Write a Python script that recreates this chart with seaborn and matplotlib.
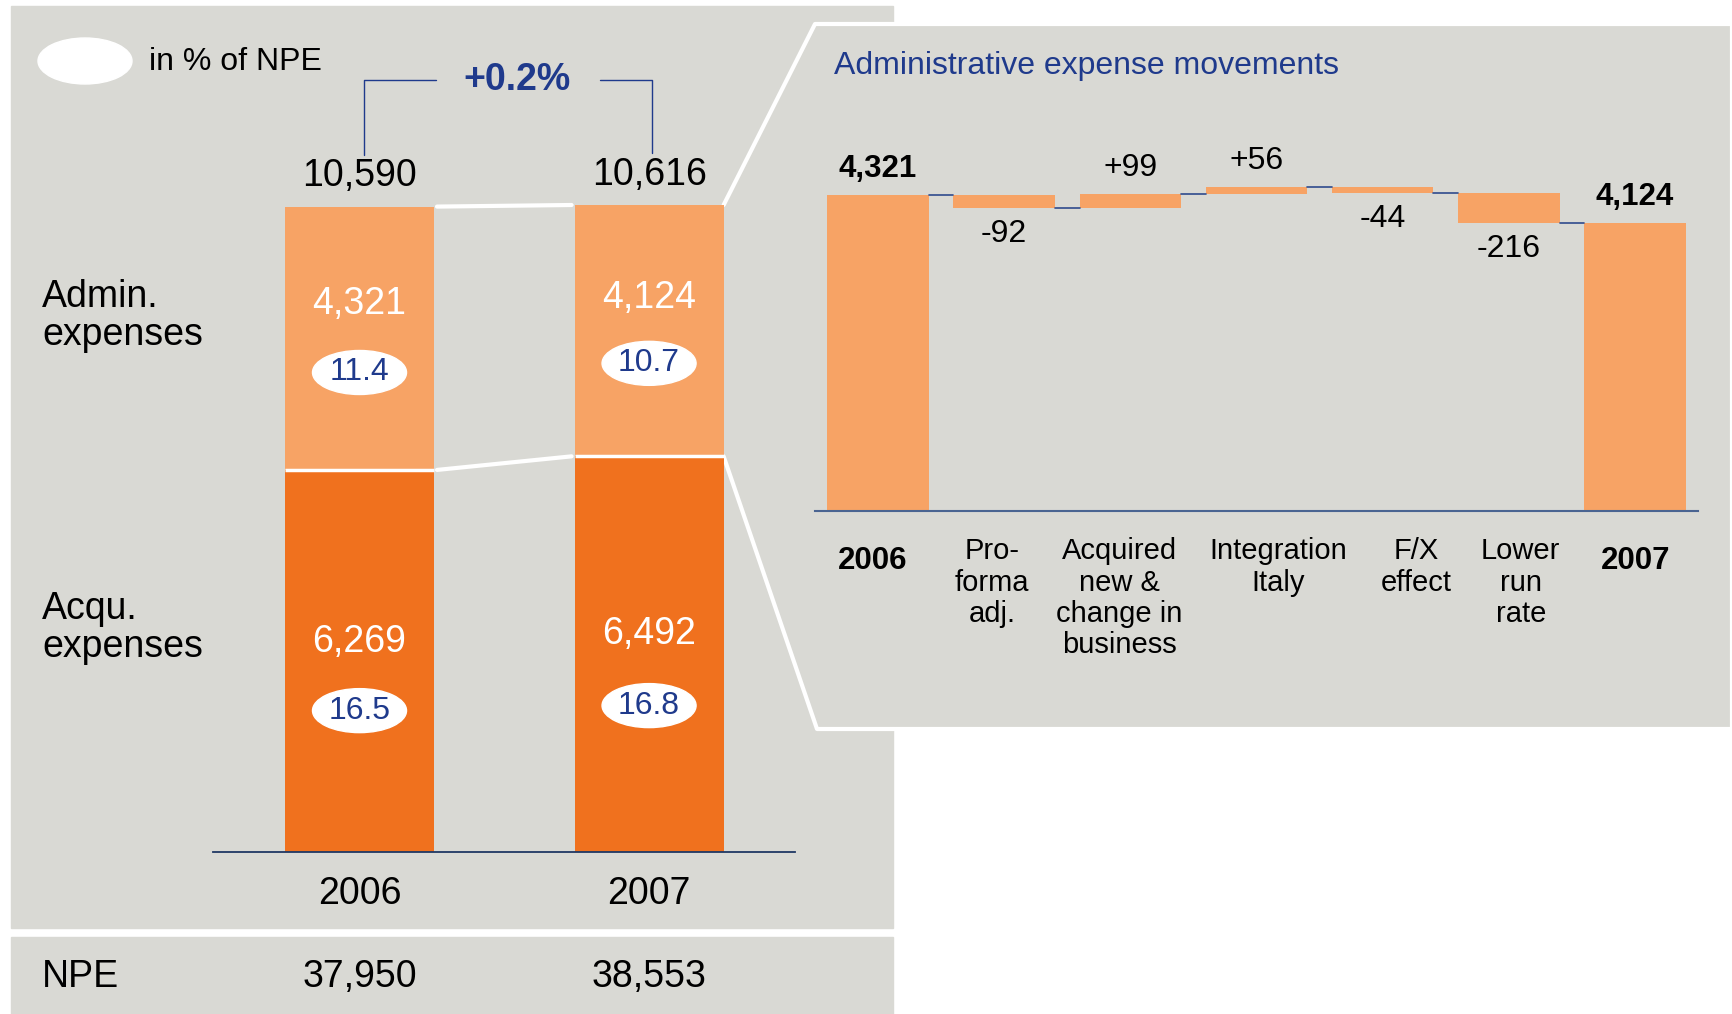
import numpy as np
import pandas as pd
import matplotlib
matplotlib.use('Agg')
import matplotlib.pyplot as plt
import matplotlib.transforms as mtransforms
from matplotlib.patches import Rectangle, Ellipse, Polygon
import seaborn as sns

# Данные
years = ['2006', '2007']
admin = [4321, 4124]
acqu = [6269, 6492]
totals = [10590, 10616]
pct_admin = ['11.4', '10.7']
pct_acqu = ['16.5', '16.8']
npe = ['37,950', '38,553']
change_label = '+0.2%'

steps = ['2006', 'Pro-\nforma\nadj.', 'Acquired\nnew &\nchange in\nbusiness',
         'Integration\nItaly', 'F/X\neffect', 'Lower\nrun\nrate', '2007']
step_values = [4321, -92, 99, 56, -44, -216, 4124]
step_labels = ['4,321', '-92', '+99', '+56', '-44', '-216', '4,124']

W, H = 1732, 1014


def fx(px):
    return px / W


def fy(py):
    return 1 - py / H


sns.set_theme(style='white')
plt.rcParams['font.family'] = ['Liberation Sans', 'DejaVu Sans']
plt.rcParams['text.color'] = 'black'
plt.rcParams['xtick.color'] = 'black'

GRAY = '#D9D9D4'
LIGHT = '#F7A365'
DARK = '#F0711E'
BLUE = '#1F3A8C'
NAVY = '#1F3864'
BIG = 27

fig = plt.figure(figsize=(W / 100, H / 100), dpi=100)

# фон левой панели и строки NPE
fig.patches.append(Rectangle((fx(11), fy(928)), fx(893) - fx(11), fy(6) - fy(928),
                             transform=fig.transFigure, color=GRAY, zorder=-3))
fig.patches.append(Rectangle((fx(11), 0), fx(893) - fx(11), fy(937),
                             transform=fig.transFigure, color=GRAY, zorder=-3))

# ---------- левый график: столбцы с накоплением ----------
ax1 = fig.add_axes([fx(213), fy(852), fx(795) - fx(213), fy(40) - fy(852)])
ax1.patch.set_visible(False)
bw = 0.515
df = pd.DataFrame({'year': years, 'total': totals, 'acq': acqu})
sns.barplot(data=df, x='year', y='total', color=LIGHT, saturation=1, width=bw,
            errorbar=None, linewidth=0, ax=ax1)
sns.barplot(data=df, x='year', y='acq', color=DARK, saturation=1, width=bw,
            errorbar=None, linewidth=0, ax=ax1)
ppu = (852 - 205) / max(totals)        # пикселей на единицу
ax1.set_xlim(-0.506, 1.504)
ax1.set_ylim(0, (852 - 40) / ppu)
ax1.set_xlabel('')
ax1.set_ylabel('')
ax1.set_yticks([])
ax1.set_xticks([0, 1])
ax1.set_xticklabels(years, fontsize=BIG, color='black')
ax1.tick_params(axis='x', length=0, pad=17)
for s in ['top', 'left', 'right']:
    ax1.spines[s].set_visible(False)
ax1.spines['bottom'].set_color(NAVY)
ax1.spines['bottom'].set_linewidth(1.3)

# белая граница между сегментами
x_pos = np.arange(len(years))
ax1.hlines(acqu, x_pos - bw / 2, x_pos + bw / 2, color='white', lw=2.5, zorder=5)

# линии между столбцами
ax1.plot([bw / 2 + 0.01, 1 - bw / 2 - 0.01], totals, color='white', lw=3, zorder=1)
ax1.plot([bw / 2 + 0.01, 1 - bw / 2 - 0.01], acqu, color='white', lw=3, zorder=1)

ell_w = 94 / 289.5
ell_h = 44 / ppu
for i in range(2):
    ya = acqu[i] + admin[i] * 0.63
    ax1.text(i, ya, f'{admin[i]:,}', color='white', fontsize=BIG, ha='center', va='center')
    ye = acqu[i] + admin[i] * 0.37
    ax1.add_patch(Ellipse((i, ye), ell_w, ell_h, color='white', zorder=6))
    ax1.text(i, ye, pct_admin[i], color=BLUE, fontsize=23, ha='center', va='center', zorder=7)

    yq = acqu[i] * 0.55
    ax1.text(i, yq, f'{acqu[i]:,}', color='white', fontsize=BIG, ha='center', va='center')
    ye = acqu[i] * 0.37
    ax1.add_patch(Ellipse((i, ye), ell_w, ell_h, color='white', zorder=6))
    ax1.text(i, ye, pct_acqu[i], color=BLUE, fontsize=23, ha='center', va='center', zorder=7)

    ax1.annotate(f'{totals[i]:,}', (i, totals[i]), xytext=(0, 9), textcoords='offset points',
                 ha='center', va='bottom', fontsize=BIG)

# скобка +0.2%
y_br = (852 - 80) / ppu
y_l = totals[0] + 52 / ppu
y_r = totals[1] + 52 / ppu
ax1.plot([0.015, 0.015, 0.265], [y_l, y_br, y_br], color=BLUE, lw=1, clip_on=False)
ax1.plot([0.83, 1.01, 1.01], [y_br, y_br, y_r], color=BLUE, lw=1, clip_on=False)
ax1.text(0.545, y_br, change_label, color=BLUE, fontsize=BIG, fontweight='bold',
         ha='center', va='center')

# подписи слева и строка NPE
fig.text(fx(42), fy(316), 'Admin.\nexpenses', fontsize=BIG, va='center', linespacing=1.1)
fig.text(fx(42), fy(628), 'Acqu.\nexpenses', fontsize=BIG, va='center', linespacing=1.1)
fig.text(fx(42), fy(977), 'NPE', fontsize=BIG, va='center')
blend = mtransforms.blended_transform_factory(ax1.transData, fig.transFigure)
for i in range(2):
    ax1.text(i, fy(977), npe[i], transform=blend, fontsize=BIG, ha='center', va='center')

# легенда
fig.patches.append(Ellipse((fx(85), fy(61)), 94 / W, 46 / H, transform=fig.transFigure,
                           color='white', zorder=2))
fig.text(fx(149), fy(62), 'in % of NPE', fontsize=23, va='center')

# ---------- правая панель (выноска) ----------
inv = fig.transFigure.inverted()
p_top = inv.transform(ax1.transData.transform((1 + bw / 2, totals[1])))
p_mid = inv.transform(ax1.transData.transform((1 + bw / 2, acqu[1])))
tl = (fx(815), fy(24))
tr = (fx(1732), fy(24))
br = (fx(1732), fy(729))
bl = (fx(817), fy(729))
fig.patches.append(Polygon([tuple(p_top), tl, tr, br, bl, tuple(p_mid)], closed=True,
                           transform=fig.transFigure, facecolor=GRAY, edgecolor='none',
                           zorder=-2))
edge = np.array([p_mid, bl, br, tr, tl, p_top])
fig.lines.append(plt.Line2D(edge[:, 0], edge[:, 1], transform=fig.transFigure,
                            color='white', lw=3, zorder=-1))

fig.text(fx(834), fy(66), 'Administrative expense movements', color=BLUE, fontsize=23,
         va='center')

# ---------- водопад ----------
ax2 = fig.add_axes([fx(815), fy(511), fx(1698) - fx(815), fy(100) - fy(511)])
ax2.patch.set_visible(False)
bottoms, heights, ends = [], [], []
level = 0
for i, v in enumerate(step_values):
    if i == 0 or i == len(step_values) - 1:
        bottoms.append(0)
        heights.append(v)
        level = v
    else:
        prev = level
        level = prev + v
        bottoms.append(min(prev, level))
        heights.append(abs(v))
    ends.append(level)

wf = pd.DataFrame({'step': steps, 'height': heights})
sns.barplot(data=wf, x='step', y='height', bottom=bottoms, color=LIGHT, saturation=1,
            width=0.806, errorbar=None, linewidth=0, ax=ax2)
ax2.set_xlim(-0.5, 6.5)
ax2.set_ylim(2060, 5005)
ax2.set_xlabel('')
ax2.set_ylabel('')
ax2.set_yticks([])
ax2.set_xticks(range(len(steps)))
ax2.set_xticklabels(steps, fontsize=21, linespacing=1.15)
ax2.tick_params(axis='x', length=0, pad=19)
# небольшие сдвиги подписей, как в оригинале (в пикселях)
label_shift = [(-5, -9), (-12, 0), (-11, 0), (22, 0), (34, 0), (12, 0), (1, -9)]
for lab, (dx, dy) in zip(ax2.get_xticklabels(), label_shift):
    lab.set_transform(lab.get_transform() +
                      mtransforms.ScaledTranslation(dx / 100, dy / 100, fig.dpi_scale_trans))
for k in [0, len(steps) - 1]:
    ax2.get_xticklabels()[k].set_fontweight('bold')
    ax2.get_xticklabels()[k].set_fontsize(22.5)
for s in ['top', 'left', 'right']:
    ax2.spines[s].set_visible(False)
ax2.spines['bottom'].set_color('#4A6491')
ax2.spines['bottom'].set_linewidth(1.5)

# соединительные линии
for i in range(len(steps) - 1):
    ax2.plot([i + 0.403, i + 1 - 0.403], [ends[i], ends[i]], color='#2F4B8C', lw=1.2)

for i, v in enumerate(step_values):
    top = bottoms[i] + heights[i]
    if i == 0 or i == len(steps) - 1:
        ax2.annotate(step_labels[i], (i, top), xytext=(0, 8), textcoords='offset points',
                     ha='center', va='bottom', fontsize=22.5, fontweight='bold')
    elif v > 0:
        ax2.annotate(step_labels[i], (i, top), xytext=(0, 8), textcoords='offset points',
                     ha='center', va='bottom', fontsize=23)
    else:
        ax2.annotate(step_labels[i], (i, bottoms[i]), xytext=(0, -8), textcoords='offset points',
                     ha='center', va='top', fontsize=23)

fig.savefig('out.png', dpi=100)
